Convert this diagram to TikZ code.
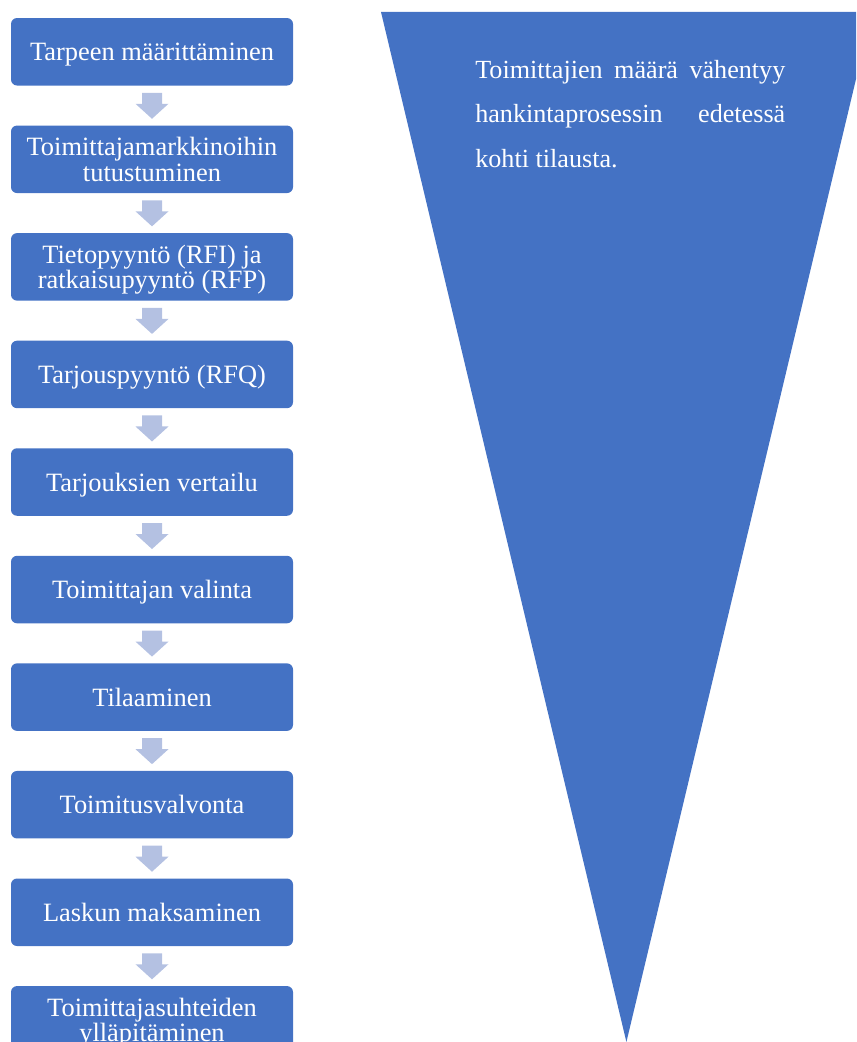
\documentclass[tikz,border=0pt]{standalone}
\usepackage{fontspec}
\setmainfont{Liberation Serif}
\definecolor{stepblue}{RGB}{68, 114, 196}
\definecolor{arrowgray}{RGB}{180, 193, 226}
\usetikzlibrary{positioning, calc}
\tikzset{
  stepbox/.style={fill=stepblue, text=white, rounded corners=0.15cm,
    minimum width=7.05cm, minimum height=1.6875cm, inner sep=0pt,
    align=center, text depth=0pt, font=\fontsize{18.8}{18.2}\selectfont},
  flowarrow/.style={fill=arrowgray}
}

\begin{document}
\begin{tikzpicture}[node distance=0.9875cm]
  \useasboundingbox (0, 0) rectangle (21.4, -26.05);
  \clip (0, 0) rectangle (21.4, -26.05);

  % Funnel
  \fill[stepblue] (9.525, -0.3) -- (21.8, -0.3) -- (15.66, -26.05) -- cycle;
  \node[anchor=north west, text width=7.75cm, align=justify, text=white, inner sep=0pt,
    font={\fontsize{18.6}{31.7}\selectfont\tolerance=10000\hyphenpenalty=10000}]
    (funneltext) at (11.875, -1.49)
    {Toimittajien määrä vähentyy hankintaprosessin edetessä kohti tilausta.};

  % Process steps
  \node[stepbox] (s1) at (3.8, -1.294) {Tarpeen määrittäminen};
  \node[stepbox, below=of s1] (s2) {Toimittajamarkkinoihin\\tutustuminen};
  \node[stepbox, below=of s2] (s3) {Tietopyyntö (RFI) ja\\ratkaisupyyntö (RFP)};
  \node[stepbox, below=of s3] (s4) {Tarjouspyyntö (RFQ)};
  \node[stepbox, below=of s4] (s5) {Tarjouksien vertailu};
  \node[stepbox, below=of s5] (s6) {Toimittajan valinta};
  \node[stepbox, below=of s6] (s7) {Tilaaminen};
  \node[stepbox, below=of s7] (s8) {Toimitusvalvonta};
  \node[stepbox, below=of s8] (s9) {Laskun maksaminen};
  \node[stepbox, below=of s9] (s10) {Toimittajasuhteiden\\ylläpitäminen};

  % Arrows between steps
  \foreach \i in {1,...,9} {
    \fill[flowarrow] ($(s\i.south)+(-0.25,-0.175)$) -- ++(0,-0.275) -- ++(-0.1625,0)
      -- ($(s\i.south)+(0,-0.825)$) -- ($(s\i.south)+(0.4125,-0.45)$) -- ++(-0.1625,0)
      -- ($(s\i.south)+(0.25,-0.175)$) -- cycle;
  }
\end{tikzpicture}
\end{document}
